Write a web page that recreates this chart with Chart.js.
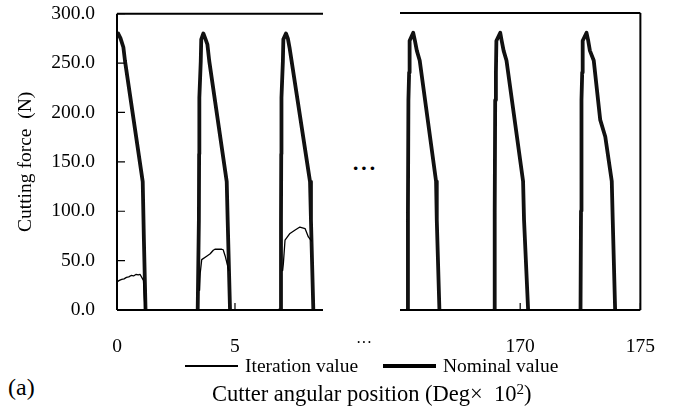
<!DOCTYPE html>
<html>
<head>
<meta charset="utf-8">
<script src="https://cdn.jsdelivr.net/npm/chart.js@4.4.1/dist/chart.umd.min.js"></script>
<style>
  html, body { margin: 0; padding: 0; background: #fff; }
  #wrap { position: relative; width: 680px; height: 415px; font-family: "Liberation Serif", "Times New Roman", serif; color: #000; overflow: hidden; }
  #leftBox { position: absolute; left: 0; top: -20px; width: 340px; height: 380px; }
  #rightBox { position: absolute; left: 380px; top: 0; width: 300px; height: 360px; }
  .txt { position: absolute; white-space: pre; font-size: 19.5px; line-height: 1; }
  .legLine { position: absolute; background: #000; }
</style>
</head>
<body>
<div id="wrap">
  <div id="leftBox"><canvas id="leftChart"></canvas></div>
  <div id="rightBox"><canvas id="rightChart"></canvas></div>
  <div class="txt" style="left:352px;top:157px;font-size:22px;font-weight:bold;letter-spacing:1px;">···</div>
  <div class="txt" style="left:356px;top:335px;font-size:16px;">···</div>
  <div id="legend"></div>
  <div class="txt" id="xTitle" style="left:212px;top:382px;font-size:22.5px;"></div>
  <div class="txt" style="left:8px;top:375px;font-size:24px;">(a)</div>
</div>
<script>
// angular position (Deg x 10^2) and force (N); null breaks the line between cuts
const nominalLeftX = [0, 0.05, 0.15, 0.27, 0.34, 1.09, 1.14, 1.21, null,
  3.42, 3.47, 3.48, 3.49, 3.55, 3.57, 3.66, 3.74, 3.83, 3.91, 4.65, 4.69, 4.79, null,
  6.91, 6.95, 6.96, 6.97, 7.03, 7.05, 7.16, 7.24, 7.31, 7.40, 8.18, 8.22, 8.32];
const nominalLeftY = [278, 280, 275, 266, 252, 130, 71, 0, null,
  0, 91, 158, 215, 252, 274, 280, 275, 269, 252, 130, 91, 0, null,
  0, 91, 158, 215, 252, 274, 280, 275, 266, 252, 130, 91, 0];

const iterLeftX = [0, 0.1, 0.2, 0.3, 0.4, 0.5, 0.6, 0.7, 0.8, 0.9, 0.98, 1.12, 1.19, null,
  3.50, 3.53, 3.59, 3.80, 3.95, 4.08, 4.15, 4.44, 4.50, 4.58, 4.74, null,
  7.02, 7.05, 7.12, 7.33, 7.55, 7.75, 7.97, 8.11, 8.24];
const iterLeftY = [28.5, 30, 31, 31.5, 33, 33.5, 35, 34.5, 36, 35.5, 36, 30, 0, null,
  20, 38, 51, 54.5, 57, 60.5, 61.5, 61.5, 61, 55, 40, null,
  40, 47, 70.7, 77.5, 81, 84, 82.5, 74, 70];

const nominalRightX = [165.31, 165.33, 165.35, 165.38, 165.40, 165.55, 165.62, 165.70, 165.82, 166.50, 166.53, 166.64, null,
  168.92, 168.94, 168.96, 168.99, 169.01, 169.17, 169.23, 169.31, 169.43, 170.12, 170.16, 170.33, null,
  172.51, 172.53, 172.55, 172.58, 172.60, 172.76, 172.83, 172.90, 173.06, 173.33, 173.54, 173.81, 173.85, 173.95];
const nominalRightY = [0, 100, 212, 240, 272, 280, 272, 262, 252, 130, 91, 0, null,
  0, 100, 212, 240, 272, 280, 272, 262, 252, 130, 91, 0, null,
  0, 100, 212, 240, 272, 280, 272, 262, 252, 192, 175, 130, 91, 0];

const leftXTicks = [0, 5];
const rightXTicks = [170, 175];
const yTicks = [0, 50, 100, 150, 200, 250, 300];
const seriesNames = ["Iteration value", "Nominal value"];
const yTitle = "Cutting force  (N)";
const xTitle = "Cutter angular position (Deg\u00d7  10";

const font = { family: "'Liberation Serif', 'Times New Roman', serif", size: 19.5 };

function pairs(xs, ys) {
  return xs.map((x, i) => (x === null ? { x: NaN, y: null } : { x: x, y: ys[i] }));
}

// frame lines and inward ticks
const framePlugin = {
  id: "frame",
  afterDraw(chart, args, opts) {
    const { ctx, chartArea: a } = chart;
    const xs = chart.scales.x, ys = chart.scales.y;
    ctx.save();
    ctx.strokeStyle = "#000";
    ctx.lineWidth = 2;
    ctx.beginPath();
    ctx.moveTo(a.left, a.top); ctx.lineTo(a.right, a.top);
    if (opts.side === "left") {
      ctx.moveTo(a.left, a.top); ctx.lineTo(a.left, a.bottom);
    } else {
      ctx.moveTo(a.right, a.top); ctx.lineTo(a.right, a.bottom);
    }
    ctx.moveTo(a.left, a.bottom); ctx.lineTo(a.right, a.bottom);
    ctx.stroke();
    ctx.lineWidth = 1.2;
    ctx.beginPath();
    xs.ticks.forEach(t => {
      const px = xs.getPixelForValue(t.value);
      ctx.moveTo(px, a.bottom); ctx.lineTo(px, a.bottom - 7);
    });
    if (opts.side === "left") {
      ys.ticks.forEach(t => {
        const py = ys.getPixelForValue(t.value);
        ctx.moveTo(a.left, py); ctx.lineTo(a.left + 8, py);
      });
    }
    ctx.stroke();
    ctx.restore();
  }
};

function makeChart(id, datasets, xMin, xMax, xTicks, side) {
  const left = side === "left";
  return new Chart(document.getElementById(id), {
    type: "line",
    data: { datasets: datasets },
    options: {
      responsive: true,
      maintainAspectRatio: false,
      animation: false,
      spanGaps: false,
      layout: { padding: left ? { top: 13, right: 17, left: 0, bottom: 0 } : { top: 13, right: 37, left: 20, bottom: 0 } },
      elements: {
        point: { radius: 0 },
        line: { tension: 0, borderJoinStyle: "round", borderCapStyle: "round" }
      },
      plugins: { legend: { display: false }, tooltip: { enabled: false }, frame: { side: side } },
      scales: {
        x: {
          type: "linear",
          min: xMin,
          max: xMax,
          afterBuildTicks: s => { s.ticks = xTicks.map(v => ({ value: v })); },
          afterFit: s => { s.height = 50; },
          grid: { display: false, drawTicks: false },
          border: { display: false },
          ticks: { color: "#000", font: font, padding: 25, maxRotation: 0, callback: v => String(v) }
        },
        y: {
          display: left,
          min: 0,
          max: 300,
          afterBuildTicks: s => { s.ticks = yTicks.map(v => ({ value: v })); },
          afterFit: s => { if (left) s.width = 117; },
          grid: { display: false, drawTicks: false },
          border: { display: false },
          ticks: { color: "#000", font: font, padding: 22, callback: v => v.toFixed(1) },
          title: { display: left, text: yTitle, color: "#000", font: { family: font.family, size: 19.5 }, padding: { top: 14, bottom: 0 } }
        }
      }
    },
    plugins: [framePlugin]
  });
}

makeChart("leftChart", [
  { label: seriesNames[0], data: pairs(iterLeftX, iterLeftY), borderColor: "#000", borderWidth: 1.3, fill: false },
  { label: seriesNames[1], data: pairs(nominalLeftX, nominalLeftY), borderColor: "#111", borderWidth: 3.8, fill: false }
], 0, 8.73, leftXTicks, "left");

makeChart("rightChart", [
  { label: seriesNames[1], data: pairs(nominalRightX, nominalRightY), borderColor: "#111", borderWidth: 3.8, fill: false }
], 165, 175, rightXTicks, "right");

// legend and bottom texts
const legend = document.getElementById("legend");
const legItems = [
  { name: seriesNames[0], x: 185, w: 1.3 },
  { name: seriesNames[1], x: 383, w: 4 }
];
legItems.forEach(it => {
  const l = document.createElement("div");
  l.className = "legLine";
  l.style.left = it.x + "px";
  l.style.top = (366 - it.w / 2) + "px";
  l.style.width = "53px";
  l.style.height = it.w + "px";
  legend.appendChild(l);
  const t = document.createElement("div");
  t.className = "txt";
  t.style.left = (it.x + 60) + "px";
  t.style.top = "356px";
  t.textContent = it.name;
  legend.appendChild(t);
});
const xt = document.getElementById("xTitle");
xt.textContent = xTitle;
const sup = document.createElement("sup");
sup.textContent = "2";
sup.style.fontSize = "15px";
sup.style.verticalAlign = "7px";
xt.appendChild(sup);
xt.appendChild(document.createTextNode(")"));
</script>
</body>
</html>
